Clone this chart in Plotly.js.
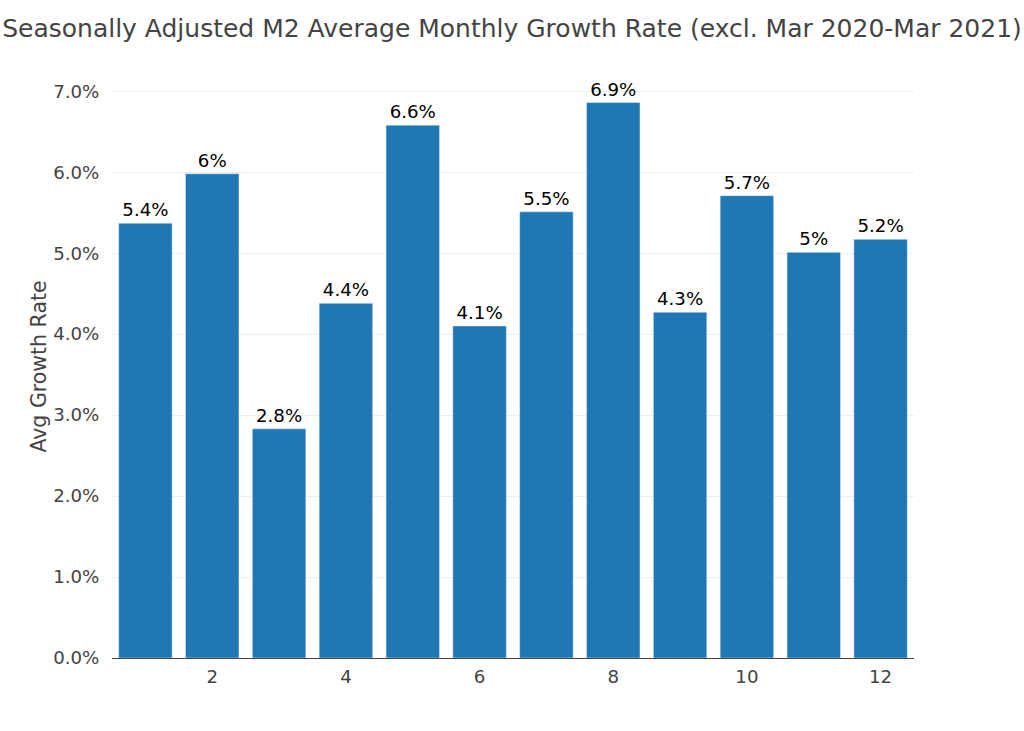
<!DOCTYPE html>
<html>
<head>
<meta charset="utf-8">
<script src="https://cdn.plot.ly/plotly-3.0.1.min.js"></script>
<style>
  html, body { margin: 0; padding: 0; background: #fff; }
  #chart { width: 1024px; height: 731px; }
</style>
</head>
<body>
<div id="chart"></div>
<script>
// month of year, 1..12
var months = [1, 2, 3, 4, 5, 6, 7, 8, 9, 10, 11, 12];
// average monthly growth rate (fraction)
var growth = [0.0537, 0.0598, 0.0283, 0.0438, 0.0658, 0.0410, 0.0551, 0.0686, 0.0427, 0.0571, 0.0501, 0.0517];
var barLabels = ['5.4%', '6%', '2.8%', '4.4%', '6.6%', '4.1%', '5.5%', '6.9%', '4.3%', '5.7%', '5%', '5.2%'];

var font = 'DejaVu Sans, Verdana, sans-serif';

var traces = [{
  type: 'bar',
  x: months,
  y: growth,
  text: barLabels,
  textposition: 'outside',
  cliponaxis: false,
  textfont: { family: font, size: 18.2, color: '#000' },
  marker: { color: '#1f77b4', line: { color: '#e5ecf6', width: 0.5 } },
  hoverinfo: 'x+y'
}];

var layout = {
  width: 1024,
  height: 731,
  paper_bgcolor: '#fff',
  plot_bgcolor: '#fff',
  font: { family: font, size: 18.2, color: '#444' },
  margin: { l: 112, r: 110, t: 75, b: 73 },
  bargap: 0.2,
  showlegend: false,
  title: {
    text: 'Seasonally Adjusted M2 Average Monthly Growth Rate (excl. Mar 2020-Mar 2021)',
    font: { family: font, size: 25, color: '#444' },
    x: 0.5, xanchor: 'center', y: 0.962, yanchor: 'middle'
  },
  xaxis: {
    range: [0.5, 12.5],
    tickmode: 'linear', tick0: 2, dtick: 2,
    showgrid: false,
    showline: true, linecolor: '#444', linewidth: 1,
    zeroline: false,
    ticks: 'outside', ticklen: 2, tickcolor: 'rgba(0,0,0,0)',
    tickfont: { family: font, size: 18.2, color: '#444' }
  },
  yaxis: {
    title: { text: 'Avg Growth Rate', font: { family: font, size: 20.5, color: '#444' }, standoff: 0 },
    range: [0, 0.072],
    tickmode: 'linear', tick0: 0, dtick: 0.01,
    tickformat: '.1%',
    gridcolor: '#eeeeee', gridwidth: 1,
    zeroline: false,
    showline: false,
    ticks: 'outside', ticklen: 8, tickcolor: 'rgba(0,0,0,0)',
    tickfont: { family: font, size: 18.2, color: '#444' }
  }
};

Plotly.newPlot('chart', traces, layout, { displayModeBar: false, staticPlot: true });
</script>
</body>
</html>
